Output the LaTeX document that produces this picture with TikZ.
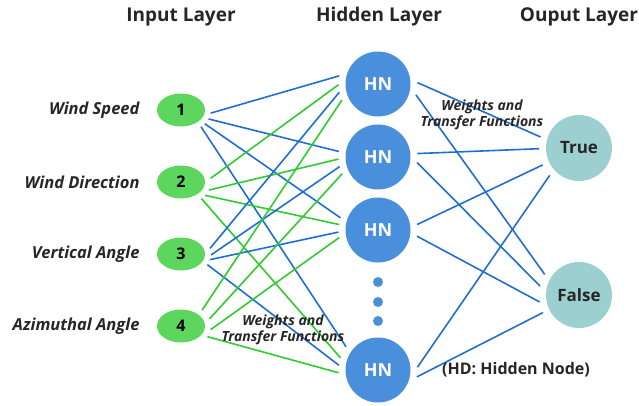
\documentclass[tikz,border=0pt]{standalone}
\usepackage{fontspec}
\setmainfont{Open Sans}
\usetikzlibrary{shapes.geometric}

\definecolor{hnblue}{HTML}{4A8FDB}
\definecolor{ingreen}{HTML}{5CD65C}
\definecolor{outteal}{HTML}{9BCFD0}
\definecolor{wblue}{HTML}{1F6FD2}
\definecolor{wgreen}{HTML}{2FCB2F}

\tikzset{
  layertitle/.style={font=\fontsize{19}{22}\selectfont\bfseries, text=black!85},
  featlabel/.style={anchor=east, font=\fontsize{16.5}{19}\selectfont\bfseries\itshape, text=black!85},
  inputnode/.style={ellipse, fill=ingreen, minimum width=48pt, minimum height=33pt,
    inner sep=0pt, outer sep=6pt, font=\fontsize{16}{18}\selectfont\bfseries},
  hiddennode/.style={circle, fill=hnblue, minimum size=65pt, inner sep=0pt,
    outer sep=7pt, text=white, font=\fontsize{18}{20}\selectfont\bfseries},
  outputnode/.style={circle, fill=outteal, minimum size=66pt, inner sep=0pt,
    outer sep=7pt, text=black!85, font=\fontsize{17}{20}\selectfont\bfseries},
  moredot/.style={circle, fill=hnblue, minimum size=10pt, inner sep=0pt},
  wnote/.style={align=center, font=\fontsize{14}{16}\selectfont\bfseries\itshape, text=black!85},
  wb/.style={draw=wblue, line width=1.6pt},
  wg/.style={draw=wgreen, line width=1.6pt}
}

\begin{document}
\begin{tikzpicture}[x=1pt, y=-1pt]
\useasboundingbox (0,0) rectangle (639,405);

% layer titles
\node[layertitle] (tin)  at (181,17) {Input Layer};
\node[layertitle] (thid) at (379,17) {Hidden Layer};
\node[layertitle] (tout) at (579,17) {Ouput Layer};

% input layer
\node[inputnode] (in1) at (181,110) {1};
\node[inputnode] (in2) at (181,182) {2};
\node[inputnode] (in3) at (181,254) {3};
\node[inputnode] (in4) at (181,326) {4};

\node[featlabel] (f1) at (143,110) {Wind Speed};
\node[featlabel] (f2) at (143,182) {Wind Direction};
\node[featlabel] (f3) at (143,254) {Vertical Angle};
\node[featlabel] (f4) at (143,326) {Azimuthal Angle};

% hidden layer
\node[hiddennode] (hn1) at (378,84)  {HN};
\node[hiddennode] (hn2) at (378,157) {HN};
\node[hiddennode] (hn3) at (378,230) {HN};
\node[hiddennode] (hn4) at (378,370) {HN};

\node[moredot] (d1) at (378,282) {};
\node[moredot] (d2) at (378,302) {};
\node[moredot] (d3) at (378,321) {};

% output layer
\node[outputnode] (out1) at (579,148) {True};
\node[outputnode] (out2) at (579,295) {False};

% input -> hidden weights
\foreach \s/\a/\t/\b/\c in {
  in1/354/hn1/168/wb, in1/342/hn2/172/wb, in1/330/hn3/162/wb, in1/320/hn4/144/wb,
  in2/7/hn1/181/wg,   in2/344/hn2/183/wg, in2/331/hn3/172/wg, in2/321/hn4/162/wg,
  in3/11/hn1/192/wb,  in3/358/hn2/194/wb, in3/349/hn3/183/wb, in3/338/hn4/173/wb,
  in4/37/hn1/204/wg,  in4/14/hn2/205/wg,  in4/353/hn3/191/wg, in4/338/hn4/184/wg}
  \draw[\c] (\s.\a) -- (\t.\b);

% hidden -> output weights
\foreach \s/\a/\t/\b in {
  hn1/2/out1/164,   hn1/344/out2/149,
  hn2/5/out1/181,   hn2/352/out2/167,
  hn3/8/out1/205,   hn3/351/out2/190,
  hn4/4/out1/223,   hn4/350/out2/206}
  \draw[wb] (\s.\a) -- (\t.\b);

% annotations
\node[wnote] (w1) at (482,115) {Weights and\\Transfer Functions};
\node[wnote] (w2) at (283,330) {Weights and\\Transfer Functions};
\node[font=\fontsize{16}{18}\selectfont\bfseries, text=black!85] (hd) at (516,370) {(HD: Hidden Node)};
\end{tikzpicture}
\end{document}
